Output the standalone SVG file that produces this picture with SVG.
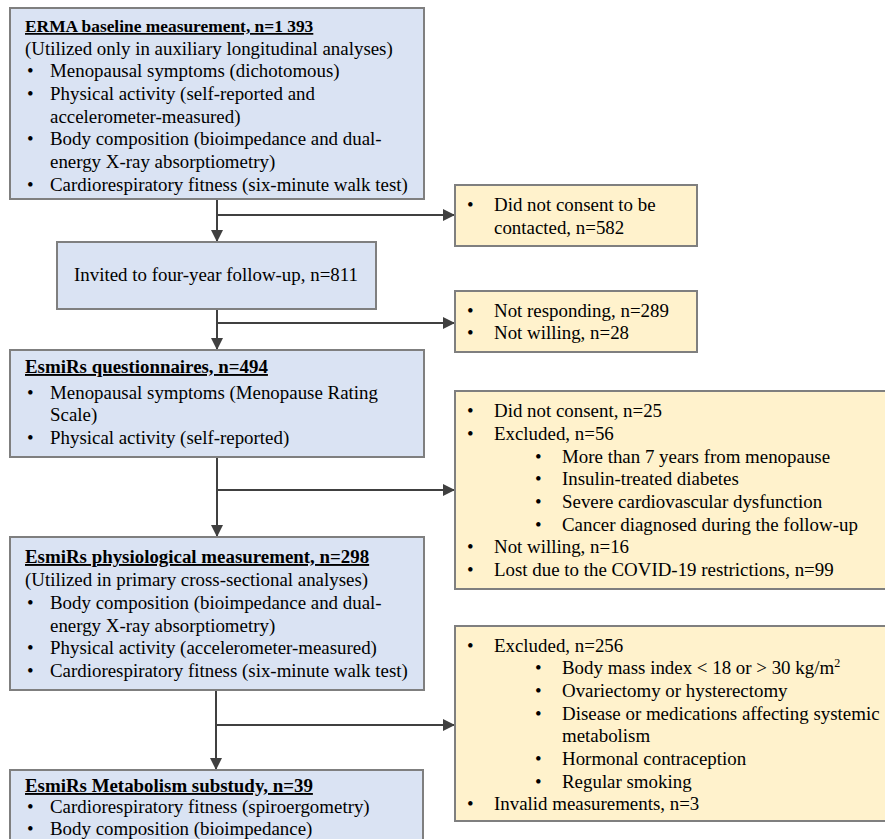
<svg xmlns="http://www.w3.org/2000/svg" width="885" height="839" viewBox="0 0 885 839">
<defs>
<marker id="ah" markerWidth="12" markerHeight="12" refX="11" refY="6" orient="auto" markerUnits="userSpaceOnUse">
<path d="M0,0 L12,6 L0,12 Z" fill="#404040"/>
</marker>
<style>
text{font-family:"Liberation Serif","Times New Roman",serif;font-size:18.9px;fill:#000}
.t{font-weight:bold;text-decoration:underline}
.blue{fill:#dae3f3;stroke:#7f7f7f;stroke-width:2}
.yel{fill:#fff2cc;stroke:#7f7f7f;stroke-width:2}
.c{fill:none;stroke:#404040;stroke-width:2}
</style>
</defs>
<rect width="885" height="839" fill="#fff"/>
<g id="connectors">
<path class="c" d="M217,200 V241" marker-end="url(#ah)"/>
<path class="c" d="M217,215 H454" marker-end="url(#ah)"/>
<path class="c" d="M217,309 V349" marker-end="url(#ah)"/>
<path class="c" d="M217,323 H454" marker-end="url(#ah)"/>
<path class="c" d="M217,457 V536" marker-end="url(#ah)"/>
<path class="c" d="M217,490 H454" marker-end="url(#ah)"/>
<path class="c" d="M216,690 V769" marker-end="url(#ah)"/>
<path class="c" d="M216,725 H454" marker-end="url(#ah)"/>
</g>
<g id="erma">
<rect class="blue" x="10" y="8" width="414" height="191"/>
<text x="25" y="32" class="t" style="font-size:17.4px">ERMA baseline measurement, n=1 393</text>
<text x="25" y="54.5">(Utilized only in auxiliary longitudinal analyses)</text>
<text x="27" y="77">•</text><text x="50" y="77">Menopausal symptoms (dichotomous)</text>
<text x="27" y="100">•</text><text x="50" y="100">Physical activity (self-reported and</text>
<text x="50" y="122.5">accelerometer-measured)</text>
<text x="27" y="145">•</text><text x="50" y="145">Body composition (bioimpedance and dual-</text>
<text x="50" y="168">energy X-ray absorptiometry)</text>
<text x="27" y="191">•</text><text x="50" y="191">Cardiorespiratory fitness (six-minute walk test)</text>
</g>
<g id="excl1">
<rect class="yel" x="455" y="185" width="242" height="61"/>
<text x="467" y="211">•</text><text x="494" y="211">Did not consent to be</text>
<text x="494" y="234">contacted, n=582</text>
</g>
<g id="invited">
<rect class="blue" x="57" y="242" width="319" height="67"/>
<text x="74" y="281">Invited to four-year follow-up, n=811</text>
</g>
<g id="excl2">
<rect class="yel" x="455" y="291" width="242" height="61"/>
<text x="467" y="317">•</text><text x="494" y="317">Not responding, n=289</text>
<text x="467" y="339">•</text><text x="494" y="339">Not willing, n=28</text>
</g>
<g id="questionnaires">
<rect class="blue" x="10" y="350" width="414" height="107"/>
<text x="25" y="373" class="t">EsmiRs questionnaires, n=494</text>
<text x="27" y="399">•</text><text x="50" y="399">Menopausal symptoms (Menopause Rating</text>
<text x="50" y="421">Scale)</text>
<text x="27" y="444">•</text><text x="50" y="444">Physical activity (self-reported)</text>
</g>
<g id="excl3">
<rect class="yel" x="455" y="391" width="431" height="198"/>
<text x="467" y="417">•</text><text x="494" y="417">Did not consent, n=25</text>
<text x="467" y="440">•</text><text x="494" y="440">Excluded, n=56</text>
<text x="535" y="463">•</text><text x="562" y="463">More than 7 years from menopause</text>
<text x="535" y="485">•</text><text x="562" y="485">Insulin-treated diabetes</text>
<text x="535" y="508">•</text><text x="562" y="508">Severe cardiovascular dysfunction</text>
<text x="535" y="531">•</text><text x="562" y="531">Cancer diagnosed during the follow-up</text>
<text x="467" y="553">•</text><text x="494" y="553">Not willing, n=16</text>
<text x="467" y="576">•</text><text x="494" y="576">Lost due to the COVID-19 restrictions, n=99</text>
</g>
<g id="physiological">
<rect class="blue" x="10" y="537" width="414" height="153"/>
<text x="25" y="563" class="t">EsmiRs physiological measurement, n=298</text>
<text x="25" y="586">(Utilized in primary cross-sectional analyses)</text>
<text x="27" y="609">•</text><text x="50" y="609">Body composition (bioimpedance and dual-</text>
<text x="50" y="632">energy X-ray absorptiometry)</text>
<text x="27" y="654">•</text><text x="50" y="654">Physical activity (accelerometer-measured)</text>
<text x="27" y="677">•</text><text x="50" y="677">Cardiorespiratory fitness (six-minute walk test)</text>
</g>
<g id="excl4">
<rect class="yel" x="455" y="626" width="431" height="195"/>
<text x="467" y="652">•</text><text x="494" y="652">Excluded, n=256</text>
<text x="535" y="674">•</text><text x="562" y="674">Body mass index &lt; 18 or &gt; 30 kg/m<tspan font-size="12" dy="-7">2</tspan></text>
<text x="535" y="697">•</text><text x="562" y="697">Ovariectomy or hysterectomy</text>
<text x="535" y="720">•</text><text x="562" y="720">Disease or medications affecting systemic</text>
<text x="562" y="742">metabolism</text>
<text x="535" y="765">•</text><text x="562" y="765">Hormonal contraception</text>
<text x="535" y="788">•</text><text x="562" y="788">Regular smoking</text>
<text x="467" y="810">•</text><text x="494" y="810">Invalid measurements, n=3</text>
</g>
<g id="metabolism">
<rect class="blue" x="10" y="770" width="413" height="80"/>
<text x="25" y="792" class="t">EsmiRs Metabolism substudy, n=39</text>
<text x="27" y="813">•</text><text x="50" y="813">Cardiorespiratory fitness (spiroergometry)</text>
<text x="27" y="835">•</text><text x="50" y="835">Body composition (bioimpedance)</text>
</g>
</svg>
